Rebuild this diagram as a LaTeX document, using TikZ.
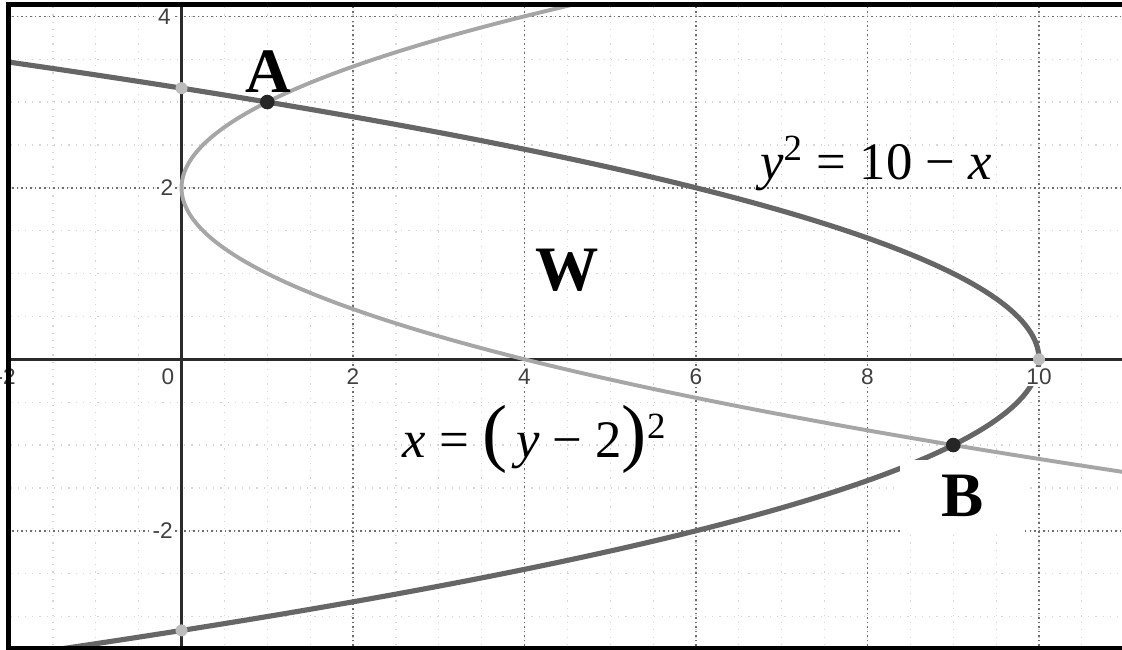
\documentclass[tikz,border=0pt]{standalone}
\usepackage{fontspec}
\setmainfont{Liberation Serif}
\setsansfont{Liberation Sans}
\usetikzlibrary{positioning}
\definecolor{CurveDark}{HTML}{666666}
\definecolor{CurveLight}{HTML}{A6A6A6}
\definecolor{GridMinor}{HTML}{D6D6D6}
\definecolor{GridMajor}{HTML}{6E6E6E}
\definecolor{AxisDark}{HTML}{2B2B2B}

\begin{document}
\begin{tikzpicture}[x=1cm,y=1cm,
  every node/.style={inner sep=1pt},
  minorgrid/.style={draw=GridMinor,line width=0.4pt,dotted},
  majorgrid/.style={draw=GridMajor,line width=0.5pt,densely dotted},
  axisline/.style={draw=AxisDark,line width=1.1pt},
  frameline/.style={draw=black,line width=1.5pt},
  darkcurve/.style={draw=CurveDark,line width=1.7pt},
  lightcurve/.style={draw=CurveLight,line width=1.3pt},
  ticklabel/.style={font=\sffamily\fontsize{7.5}{8}\selectfont,text=black!75,fill=white,inner sep=0.6pt},
  pointlabel/.style={font=\bfseries\fontsize{21}{24}\selectfont},
  eqlabel/.style={font=\fontsize{17.5}{20}\selectfont},
  meetdot/.style={circle,fill=black!85,inner sep=0pt,minimum size=1.7mm},
  cutdot/.style={circle,fill=CurveLight!75,inner sep=0pt,minimum size=1.4mm}
]
  \useasboundingbox (-2.117,-3.39) rectangle (10.968,4.19);

  \begin{scope}
    \clip (-2.02,-3.39) rectangle (10.968,4.14);
    \draw[minorgrid] (-2.5,-3.5) grid[step=0.5] (11,4.5);
    \draw[majorgrid] (-2.5,-3.5) grid[step=2] (11,4.5);
    \draw[axisline] (-2.1,0) -- (11,0);
    \draw[axisline] (0,-3.5) -- (0,4.3);
    \draw[lightcurve] plot[domain=-1.4:4.2,samples=140,variable=\t] ({(\t-2)*(\t-2)},\t);
    \draw[darkcurve] plot[domain=-3.45:3.5,samples=160,variable=\t] ({10-\t*\t},\t);
  \end{scope}

  \node[ticklabel] (xt0) at (-0.16,-0.2) {0};
  \foreach \v in {2,4,6,8,10}
    \node[ticklabel] (xt\v) at (\v,-0.2) {\v};
  \node[ticklabel] (xtm) at (-2.05,-0.2) {-2};
  \node[ticklabel] (yt4) at (-0.2,4) {4};
  \node[ticklabel] (yt2) at (-0.17,2) {2};
  \node[ticklabel] (ytm) at (-0.22,-2) {-2};

  \node[cutdot] (ytop) at (0,3.162) {};
  \node[cutdot] (ybot) at (0,-3.162) {};
  \node[cutdot] (xcut) at (10,0) {};

  \node[pointlabel,fill=white,minimum width=14.6mm,minimum height=8.4mm] (labB) at (9.11,-1.59) {B};
  \node[meetdot] (ptA) at (1,3) {};
  \node[meetdot] (ptB) at (9,-1) {};
  \node[pointlabel] (labA) at (1.01,3.36) {A};
  \node[pointlabel] (region) at (4.50,1.04) {W};

  \node[eqlabel] (eqdark) at (8.10,2.28) {\textit{y}\textsuperscript{2} = 10 − \textit{x}};
  \node[eqlabel] (eqlight) at (4.12,-0.93) {\textit{x} = {\fontsize{25}{25}\selectfont(}\,\textit{y} − 2{\fontsize{25}{25}\selectfont)}\textsuperscript{2}};

  \draw[frameline] (10.968,4.14) -- (-2.02,4.14) -- (-2.02,-3.375) -- (10.968,-3.375);
\end{tikzpicture}
\end{document}
